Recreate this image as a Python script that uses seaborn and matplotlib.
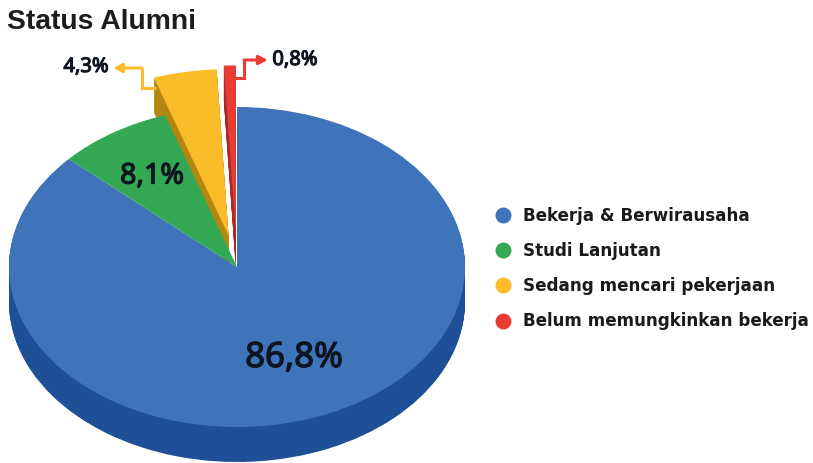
import numpy as np
import matplotlib
matplotlib.use('Agg')
import matplotlib.pyplot as plt
import matplotlib.patheffects as pe
from matplotlib.lines import Line2D
import seaborn as sns

# data
categories = ['Bekerja & Berwirausaha', 'Studi Lanjutan', 'Sedang mencari pekerjaan', 'Belum memungkinkan bekerja']
values = [86.8, 8.1, 4.3, 0.8]
value_labels = ['86,8%', '8,1%', '4,3%', '0,8%']

top_colors = ['#3F74BA', '#34A853', '#FBBC2A', '#EA3C35']
body_top = ['#3F74BA', '#34A853', 'none', 'none']
body_side = ['#1F4F96', 'none', 'none', 'none']
pulled_top = ['none', 'none', '#FBBC2A', '#EA3C35']
pulled_side = ['none', 'none', '#B5860F', '#A82A26']
explode = [0, 0, 0.2, 0.22]

W, H = 813, 463
CX, CY = 237, 267      # pie centre, px
RX, RY = 228, 160      # pie radii, px
DEPTH = 35             # extrusion, px
PULLED_RADIUS = 1.04


def px(x, y):
    """Picture pixels to data coordinates"""
    return (x - CX) / RX, (CY - y) / RY


def layer(colors, off=0, radius=1):
    ax.pie(values, explode=explode, colors=colors, startangle=90, counterclock=False,
           center=(0, -off / RY), radius=radius, wedgeprops={'linewidth': 0})


def value_text(x, y, label, size, stroke):
    # the bold face of this family does not load here, so thicken with a stroke
    ax.text(*px(x, y), label, fontsize=size, color='#0d1520', family=['Noto Sans', 'DejaVu Sans'],
            ha='center', va='center',
            path_effects=[pe.withStroke(linewidth=stroke, foreground='#0d1520')])


sns.set_theme(style='white')
plt.rcParams['font.family'] = ['Liberation Sans', 'DejaVu Sans']

fig = plt.figure(figsize=(W / 100, H / 100), dpi=100)
ax = fig.add_axes([0, 0, 1, 1])

# side of the pie: stacked copies going down
for off in range(DEPTH, 0, -1):
    layer(pulled_side, off, PULLED_RADIUS)
for off in range(DEPTH, 0, -1):
    layer(body_side, off)

# top surface, the two pulled slices are drawn last
layer(body_top)
layer(pulled_top, 0, PULLED_RADIUS)

ax.set_aspect('auto')
ax.set_xlim(px(0, 0)[0], px(W, 0)[0])
ax.set_ylim(px(0, H)[1], px(0, 0)[1])
ax.axis('off')

# inside labels
value_text(294, 358, value_labels[0], 25, 0.9)
value_text(152, 176, value_labels[1], 20.5, 0.9)


def leader(points, color, label, label_at):
    """Bent line with an arrow head, and its value label"""
    xs, ys = zip(*[px(*p) for p in points[:-1]])
    ax.plot(xs, ys, color=color, lw=2.2, solid_joinstyle='miter', solid_capstyle='butt')
    ax.annotate('', xy=px(*points[-1]), xytext=px(*points[-2]),
                arrowprops=dict(arrowstyle='-|>', color=color, lw=2.2, shrinkA=0, shrinkB=0, mutation_scale=13))
    value_text(*label_at, label, 14.5, 0.8)


leader([(156, 88), (142, 88), (142, 68), (113, 68)], top_colors[2], value_labels[2], (86, 67))
leader([(234, 78), (244, 78), (244, 60), (268, 60)], top_colors[3], value_labels[3], (295, 60))

# legend
handles = [Line2D([], [], linestyle='none', marker='o', markersize=11.5, markerfacecolor=c, markeredgewidth=0)
           for c in top_colors]
fig.legend(handles, categories, loc='upper left', bbox_to_anchor=(486 / W, 1 - 207 / H), frameon=False,
           prop={'family': ['DejaVu Sans'], 'size': 12.1, 'weight': 'bold'}, labelcolor='#1a1a1a',
           labelspacing=1.02, handletextpad=0.2, borderpad=0, borderaxespad=0)

fig.text(7 / W, 1 - 22 / H, 'Status Alumni', fontsize=20.3, fontweight='bold', color='#1c1c1c', va='center')

fig.savefig('out.png', dpi=100)
